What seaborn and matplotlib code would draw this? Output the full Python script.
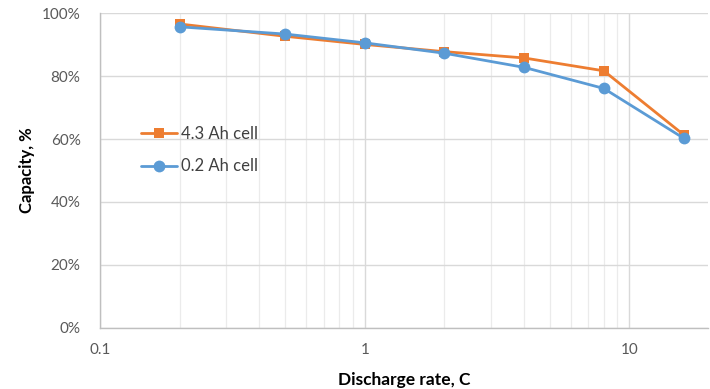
import matplotlib
matplotlib.use("Agg")
import matplotlib.pyplot as plt
import matplotlib.ticker as mticker
import numpy as np
import pandas as pd
import seaborn as sns

# Discharge rates (C) and retained capacity (%) for two cells
rates = [0.2, 0.5, 1, 2, 4, 8, 16]
cap_43ah = [96.6, 92.7, 90.1, 87.8, 85.8, 81.7, 61.4]
cap_02ah = [95.7, 93.4, 90.6, 87.3, 82.8, 76.1, 60.3]
series_names = ["4.3 Ah cell", "0.2 Ah cell"]
y_ticks = [0, 20, 40, 60, 80, 100]
x_ticks = [0.1, 1, 10]
x_tick_labels = ["0.1", "1", "10"]

df = pd.DataFrame({
    "rate": rates * 2,
    "capacity": cap_43ah + cap_02ah,
    "cell": [series_names[0]] * len(rates) + [series_names[1]] * len(rates),
})

sns.set_theme(style="white")
plt.rcParams["font.family"] = ["Lato", "DejaVu Sans"]

fig = plt.figure(figsize=(7.1, 3.89), dpi=100)
ax = fig.add_axes([100 / 710, 1 - 327.7 / 389, 608 / 710, (327.7 - 13.3) / 389])

palette = {series_names[0]: "#ED7D31", series_names[1]: "#5B9BD5"}
markers = {series_names[0]: "s", series_names[1]: "o"}
marker_sizes = [7, 8.5]

sns.lineplot(data=df, x="rate", y="capacity", hue="cell", style="cell",
             palette=palette, markers=markers, dashes=False,
             linewidth=2.0, markeredgewidth=0, ax=ax)
for line, ms in zip(ax.lines, marker_sizes):
    line.set_markersize(ms)

ax.set_xscale("log")
ax.set_xlim(0.1, 19.8)
ax.set_ylim(0, 100)

ax.set_yticks(y_ticks)
ax.yaxis.set_major_formatter(mticker.FuncFormatter(lambda v, p: f"{v:.0f}%"))
ax.set_xticks(x_ticks)
ax.set_xticklabels(x_tick_labels)
ax.xaxis.set_minor_locator(mticker.LogLocator(base=10, subs=np.arange(2, 10)))
ax.xaxis.set_minor_formatter(mticker.NullFormatter())

ax.grid(True, axis="y", which="major", color="#D9D9D9", linewidth=1.0)
ax.grid(True, axis="x", which="major", color="#D9D9D9", linewidth=1.0)
ax.grid(True, axis="x", which="minor", color="#EBEBEB", linewidth=0.9)
ax.set_axisbelow(True)

for side in ["top", "right"]:
    ax.spines[side].set_visible(False)
for side in ["left", "bottom"]:
    ax.spines[side].set_color("#BFBFBF")
    ax.spines[side].set_linewidth(1.0)

ax.tick_params(axis="both", which="both", length=0, labelsize=11, labelcolor="#595959")
ax.tick_params(axis="x", pad=11)
ax.tick_params(axis="y", pad=14)

ax.set_xlabel("Discharge rate, C", fontsize=12.5, fontweight="bold", color="#000000", labelpad=11)
ax.set_ylabel("Capacity, %", fontsize=12, fontweight="bold", color="#000000", labelpad=5)

leg = ax.legend(loc="upper left", bbox_to_anchor=(0.042, 0.69), frameon=False,
                fontsize=12, handlelength=2.2, handletextpad=0.25,
                labelspacing=1.0, labelcolor="#404040")
for h, ms in zip(leg.legend_handles, marker_sizes):
    h.set_linewidth(2.0)
    h.set_markersize(ms)

fig.savefig("out.png", dpi=100)
